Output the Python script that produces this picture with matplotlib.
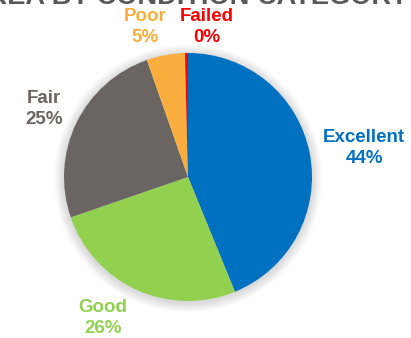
import matplotlib.pyplot as plt
from matplotlib.patches import Circle

categories = ['Excellent', 'Good', 'Fair', 'Poor', 'Failed']
shares = [44.0, 26.0, 25.0, 5.0, 0.4]
colors = ['#0070C0', '#92D050', '#6A6563', '#F9AE3E', '#FF0000']
# label anchor points (pixels from top-left)
label_pos = [(364, 148), (103, 318), (44, 109), (145, 27), (207, 27)]

W, H = 411, 338
fig = plt.figure(figsize=(W / 100, H / 100), dpi=100)
ax = fig.add_axes([0, 0, 1, 1])

cx, cy, r = 188, H - 177, 124

# soft shadow halo behind the pie
for i in range(12):
    ax.add_patch(Circle((cx, cy - 1.5), r + 10 - i * 0.8, color='#000000',
                        alpha=0.011, lw=0, zorder=0))

ax.pie(shares, colors=colors, startangle=90, counterclock=False,
       center=(cx, cy), radius=r, frame=True,
       wedgeprops=dict(linewidth=0))
ax.set_xlim(0, W)
ax.set_ylim(0, H)
ax.set_aspect('equal')
ax.axis('off')

total = sum(shares)
for name, val, col, (x, y) in zip(categories, shares, colors, label_pos):
    ax.text(x, H - y, f'{name}\n{val / total * 100:.0f}%', color=col,
            fontsize=13.5, fontweight='bold', ha='center', va='center',
            linespacing=1.35, family='Liberation Sans')

# chart title, mostly above the visible area
ax.text(408, H - 4, 'BRIDGE DECK AREA BY CONDITION CATEGORY', color='#595959',
        fontsize=19.6, fontweight='bold', ha='right', va='baseline',
        family='Liberation Sans')

fig.savefig('out.png', dpi=100)
